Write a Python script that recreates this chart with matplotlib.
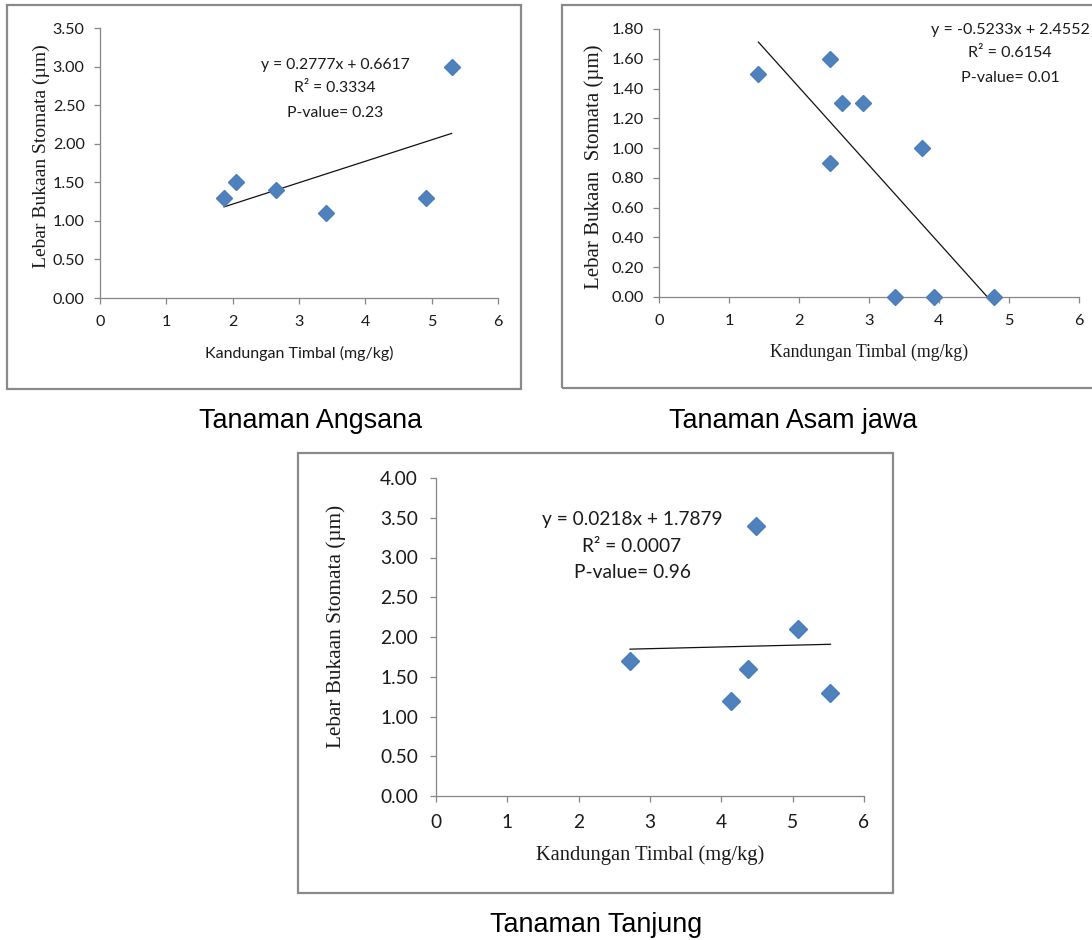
import matplotlib
matplotlib.use('Agg')
import matplotlib.pyplot as plt
from matplotlib.patches import Rectangle
import numpy as np

# data
angsana_x = [1.87, 2.05, 2.66, 3.41, 4.91, 5.30]
angsana_y = [1.30, 1.50, 1.40, 1.10, 1.30, 3.00]
angsana_fit = (0.2777, 0.6617)
angsana_stats = ['y = 0.2777x + 0.6617', 'R² = 0.3334', 'P-value= 0.23']

asam_x = [1.42, 2.44, 2.44, 2.61, 2.91, 3.76, 3.37, 3.93, 4.79]
asam_y = [1.50, 1.60, 0.90, 1.30, 1.30, 1.00, 0.00, 0.00, 0.00]
asam_fit = (-0.5233, 2.4552)
asam_stats = ['y = -0.5233x + 2.4552', 'R² = 0.6154', 'P-value= 0.01']

tanjung_x = [2.72, 4.13, 4.37, 4.49, 5.08, 5.53]
tanjung_y = [1.70, 1.20, 1.60, 3.40, 2.10, 1.30]
tanjung_fit = (0.0218, 1.7879)
tanjung_stats = ['y = 0.0218x + 1.7879', 'R² = 0.0007', 'P-value= 0.96']

W, H = 1092, 940
fig = plt.figure(figsize=(W / 100, H / 100), dpi=100)
fig.patch.set_facecolor('white')

GRAY = '#868686'
TXT = '#1a1a1a'
SANS = ['Lato', 'DejaVu Sans']
SERIF = ['Liberation Serif', 'DejaVu Serif']


def fx(px):
    return px / W


def fy(py):
    return 1 - py / H


def add_box(l, t, r, b):
    fig.patches.append(Rectangle((fx(l), fy(b)), fx(r) - fx(l), fy(t) - fy(b),
                                 transform=fig.transFigure, fill=False,
                                 edgecolor='#8a8a8a', linewidth=1.6))


def make_panel(rect, xs, ys, fit, stats, ymax, ystep, tick_fs, ms,
               ylab, ylab_fs, ylab_pos, xlab, xlab_font, xlab_fs, xlab_pos,
               stat_pos, stat_fs, pad_y, pad_x):
    l, t, r, b = rect
    ax = fig.add_axes([fx(l), fy(b), fx(r) - fx(l), fy(t) - fy(b)])
    ax.set_xlim(0, 6)
    ax.set_ylim(0, ymax)
    ax.set_xticks(range(7))
    yt = np.arange(0, ymax + 1e-9, ystep)
    ax.set_yticks(yt)
    ax.set_yticklabels(['%.2f' % v for v in yt])
    for s in ['top', 'right']:
        ax.spines[s].set_visible(False)
    for s in ['left', 'bottom']:
        ax.spines[s].set_color(GRAY)
        ax.spines[s].set_linewidth(0.9)
    ax.tick_params(axis='both', direction='out', length=4, width=0.9,
                   color=GRAY, labelcolor=TXT, labelsize=tick_fs)
    ax.tick_params(axis='y', pad=pad_y)
    ax.tick_params(axis='x', pad=pad_x)
    for lab in ax.get_xticklabels() + ax.get_yticklabels():
        lab.set_family(SANS)

    xf = np.array([min(xs), max(xs)])
    ax.plot(xf, fit[0] * xf + fit[1], color='#111111', lw=0.9, zorder=2)
    ax.plot(xs, ys, linestyle='none', marker='D', markersize=ms,
            markerfacecolor='#4F81BD', markeredgecolor='#4A7EBB',
            clip_on=False, zorder=3)

    fig.text(fx(ylab_pos[0]), fy(ylab_pos[1]), ylab, rotation=90,
             ha='center', va='center', family=SERIF, fontsize=ylab_fs, color=TXT)
    fig.text(fx(xlab_pos[0]), fy(xlab_pos[1]), xlab, ha='center', va='center',
             family=xlab_font, fontsize=xlab_fs, color=TXT)
    for txt, yy in zip(stats, stat_pos[1]):
        fig.text(fx(stat_pos[0]), fy(yy), txt, ha='center', va='center',
                 family=SANS, fontsize=stat_fs, color=TXT)
    return ax


# outer boxes
add_box(7, 5, 521, 389)
add_box(562, 5, 1110, 388)
add_box(298, 453, 893, 893)

make_panel((100, 28, 498, 298), angsana_x, angsana_y, angsana_fit, angsana_stats,
           3.5, 0.5, 11.6, 8.3, 'Lebar Bukaan Stomata (µm)', 14, (41, 156),
           'Kandungan Timbal (mg/kg)', SANS, 11.5, (299, 353),
           (335, (65, 88, 113)), 11.3, 7, 8)

make_panel((659, 29, 1079, 297), asam_x, asam_y, asam_fit, asam_stats,
           1.8, 0.2, 11.8, 8.3, 'Lebar Bukaan  Stomata (µm)', 15, (594, 167),
           'Kandungan Timbal (mg/kg)', SERIF, 12.8, (869, 352),
           (1010, (30, 53, 78)), 11.6, 7, 8)

make_panel((436, 478, 864, 796), tanjung_x, tanjung_y, tanjung_fit, tanjung_stats,
           4.0, 0.5, 13.8, 9.3, 'Lebar Bukaan Stomata (µm)', 15.3, (336, 626),
           'Kandungan Timbal (mg/kg)', SERIF, 14.8, (650, 855),
           (632, (520, 546, 573)), 13.8, 9, 9)

# panel captions
cap = dict(ha='center', va='center', family=['Liberation Sans', 'DejaVu Sans'],
           fontsize=19.4, color='#000000')
fig.text(fx(311), fy(421), 'Tanaman Angsana', **cap)
fig.text(fx(793), fy(421), 'Tanaman Asam jawa', **cap)
fig.text(fx(596), fy(925), 'Tanaman Tanjung', **cap)

plt.savefig('out.png', dpi=100)
